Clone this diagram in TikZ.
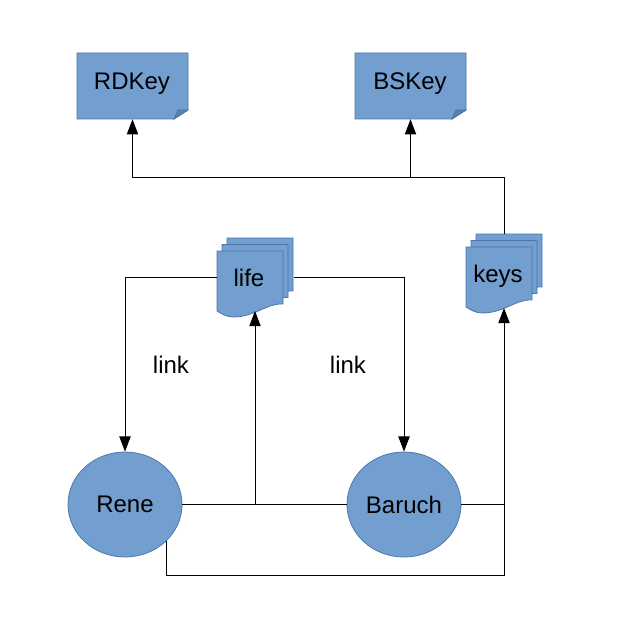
\documentclass[tikz,border=0pt]{standalone}
\usepackage{fontspec}
\setmainfont{Liberation Sans}
\usetikzlibrary{shapes.geometric,arrows.meta}
\definecolor{boxfill}{HTML}{729FCF}
\definecolor{boxline}{HTML}{4A76AC}
\definecolor{foldfill}{HTML}{5C80A6}
\tikzset{
  shapeline/.style={draw=boxline,fill=boxfill,line width=0.6pt},
  txt/.style={font=\fontsize{18}{21}\selectfont,text=black,inner sep=0pt},
  basetxt/.style={txt,anchor=base},
  boxnode/.style={rectangle,minimum width=83.25pt,minimum height=49.5pt},
  stacknode/.style={rectangle,minimum width=57.75pt,minimum height=59.25pt,inner sep=0pt},
  personnode/.style={txt,ellipse,shapeline,minimum width=85.5pt,minimum height=78.75pt},
  conn/.style={draw=black,line width=0.75pt},
  arr/.style={conn,-{Triangle[length=11.4pt,width=8.5pt]}},
  sheet/.pic={
    \path[shapeline] (0,0) -- (66,0) -- (66,53) .. controls (50,52) and (38,66) .. (16,66)
      .. controls (10,66) and (5,63) .. (0,60) -- cycle;
  },
  pagefold/.pic={
    \path[shapeline] (0,0) -- (111,0) -- (111,57) -- (97,66) -- (0,66) -- cycle;
    \path[draw=boxline,fill=foldfill,line width=0.6pt] (97,66) -- (101,57) -- (111,57) -- cycle;
  }
}
\begin{document}
\begin{tikzpicture}[x=0.75pt,y=-0.75pt]
\useasboundingbox (0,0) rectangle (624,624);
% page shapes
\pic at (77,53) {pagefold};
\pic at (355,53) {pagefold};
\node[boxnode] (rdkey) at (132.5,86) {};
\node[boxnode] (bskey) at (410.5,86) {};
\node[basetxt] (rdkeyt) at (132,90) {RDKey};
\node[basetxt] (bskeyt) at (410,90) {BSKey};
% stacks
\foreach \dx/\dy in {10/-13,5/-6.5,0/0}{
  \pic at ({217+\dx},{251+\dy}) {sheet};
  \pic at ({466+\dx},{247+\dy}) {sheet};
}
\node[stacknode] (life) at (255.5,277.5) {};
\node[stacknode] (keys) at (504.5,274) {};
\node[basetxt] (lifet) at (249,286) {life};
\node[basetxt] (keyst) at (498,282) {keys};
\coordinate (lifein) at (255,311);
\coordinate (keysin) at (504,308);
% persons
\node[personnode] (rene) at (125,504.5) {Rene};
\node[personnode] (baruch) at (404,504.5) {Baruch};
\coordinate (renelow) at (166,541);
\coordinate (jl) at (255,504.5);
\coordinate (jk) at (504,504.5);
\coordinate (jt) at (410.5,177);
% labels
\node[basetxt] (link1) at (171,373) {link};
\node[basetxt] (link2) at (348,373) {link};
% connectors
\draw[arr] (life.west) -| (rene.north);
\draw[arr] (life.east) -| (baruch.north);
\draw[conn] (rene.east) -- (baruch.west);
\draw[conn] (baruch.east) -- (jk);
\draw[arr] (jl) -- (lifein);
\draw[arr] (renelow) |- (504,575.5) -- (keysin);
\draw[arr] (keys.north) |- (jt) -- (bskey.south);
\draw[arr] (jt) -| (rdkey.south);
\end{tikzpicture}
\end{document}
